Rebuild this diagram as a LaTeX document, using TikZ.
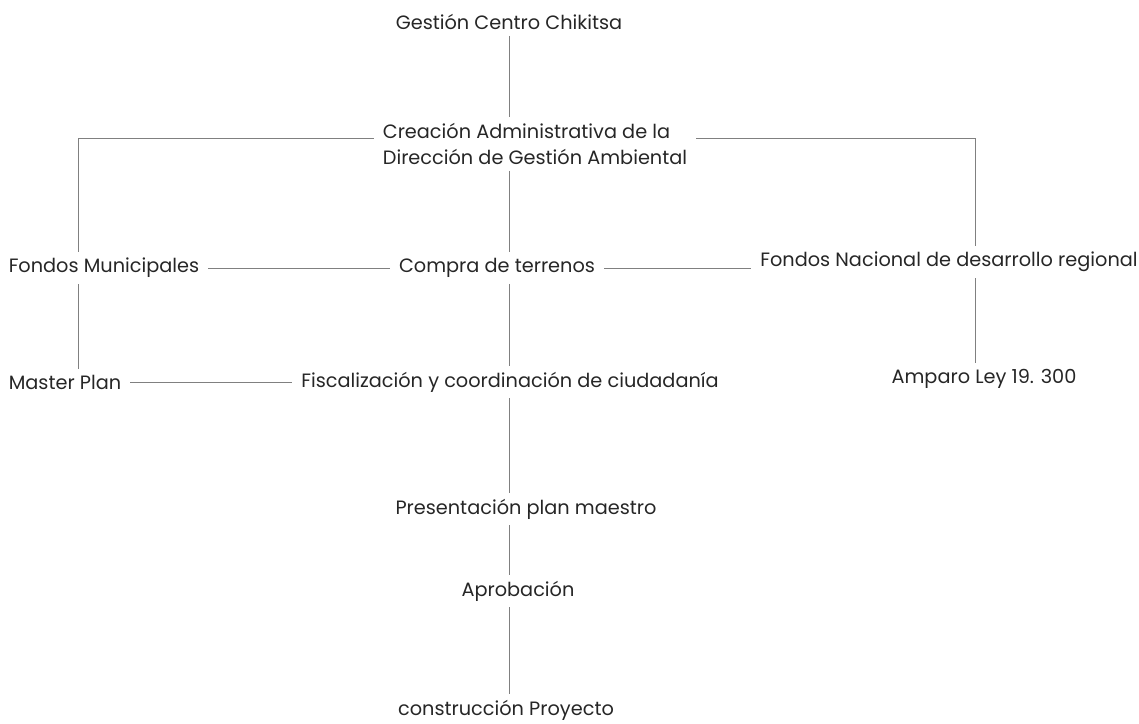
\documentclass[tikz,border=0pt]{standalone}
\usepackage{fontspec}
\setmainfont{Poppins}
\usepackage{tikz}
\usetikzlibrary{positioning, calc}
\tikzset{
  % --- Nodos y enlaces --------------------------------------
  item/.style={font=\fontsize{19.3}{26}\selectfont, text=black!85,
    inner xsep=9pt, inner ysep=6pt, align=center},
  itemb/.style={item, align=left},
  link/.style={draw=black!50, line width=0.9pt}
}
\begin{document}
\begin{tikzpicture}[x=1pt, y=-1pt]
  \useasboundingbox (0,0) rectangle (1139,723);

  \node[item]  (gest)  at (509,22)  {Gestión Centro Chikitsa};
  \node[itemb] (crea)  at (535,144) {Creación Administrativa de la\\Dirección de Gestión Ambiental};
  \node[item]  (fmun)  at (104,268) {Fondos Municipales};
  \node[item]  (comp)  at (497,268) {Compra de terrenos};
  \node[item]  (fnac)  at (949,262) {Fondos Nacional de desarrollo regional};
  \node[item]  (mast)  at (65,382)  {Master Plan};
  \node[item]  (fisc)  at (510,382) {Fiscalización y coordinación de ciudadanía};
  \node[item]  (ampa)  at (984,379) {Amparo Ley 19. 300};
  \node[item]  (pres)  at (526,509) {Presentación plan maestro};
  \node[item]  (apro)  at (518,591) {Aprobación};
  \node[item]  (cons)  at (506,710) {construcción Proyecto};

  % --- Eje central ---
  \draw[link] (gest.south) -- (gest.south |- crea.north);
  \draw[link] (crea.south -| gest.south) -- (comp.north -| gest.south);
  \draw[link] (comp.south -| gest.south) -- (fisc.north -| gest.south);
  \draw[link] (fisc.south -| gest.south) -- (pres.north -| gest.south);
  \draw[link] (pres.south -| gest.south) -- (apro.north -| gest.south);
  \draw[link] (apro.south -| gest.south) -- (cons.north -| gest.south);

  % --- Ramas laterales ---
  \draw[link] ([yshift=6pt]crea.west) -| ([xshift=-26pt]fmun.north);
  \draw[link] ([yshift=6pt]crea.east) -| ([xshift=26pt]fnac.north);
  \draw[link] ([xshift=-26pt]fmun.south) -- ([xshift=-26pt]fmun.south |- mast.north);
  \draw[link] ([xshift=26pt]fnac.south) -- ([xshift=26pt]fnac.south |- ampa.north);

  % --- Enlaces horizontales ---
  \draw[link] (fmun.east) -- (comp.west);
  \draw[link] (comp.east) -- (fnac.west |- comp.east);
  \draw[link] (mast.east) -- (fisc.west);

\end{tikzpicture}
\end{document}
